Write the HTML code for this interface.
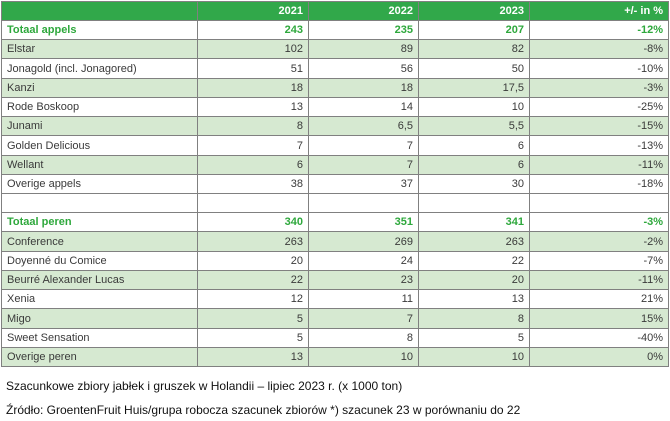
<!DOCTYPE html>
<html><head><meta charset="utf-8"><style>
body{margin:0;width:670px;height:421px;background:#fff;position:relative;overflow:hidden;font-family:"Liberation Sans",sans-serif}
.c{position:absolute;box-sizing:border-box;font-size:11px;color:#3a3a3a;line-height:19px;padding:0 5px;white-space:nowrap;overflow:hidden}
.cap{position:absolute;left:6px;font-family:"Liberation Sans",sans-serif;font-size:12px;color:#111}
</style></head><body>
<div id="tbl"></div>
<div class="cap" style="top:379px">Szacunkowe zbiory jabłek i gruszek w Holandii – lipiec 2023 r. (x 1000 ton)</div>
<div class="cap" style="top:403px">Źródło: GroentenFruit Huis/grupa robocza szacunek zbiorów *) szacunek 23 w porównaniu do 22</div>
<script>
const headers=["","2021","2022","2023","+/- in %"];
const rows=[
["Totaal appels","243","235","207","-12%","t"],
["Elstar","102","89","82","-8%","g"],
["Jonagold (incl. Jonagored)","51","56","50","-10%","w"],
["Kanzi","18","18","17,5","-3%","g"],
["Rode Boskoop","13","14","10","-25%","w"],
["Junami","8","6,5","5,5","-15%","g"],
["Golden Delicious","7","7","6","-13%","w"],
["Wellant","6","7","6","-11%","g"],
["Overige appels","38","37","30","-18%","w"],
["","","","","","w"],
["Totaal peren","340","351","341","-3%","t"],
["Conference","263","269","263","-2%","g"],
["Doyenné du Comice","20","24","22","-7%","w"],
["Beurré Alexander Lucas","22","23","20","-11%","g"],
["Xenia","12","11","13","21%","w"],
["Migo","5","7","8","15%","g"],
["Sweet Sensation","5","8","5","-40%","w"],
["Overige peren","13","10","10","0%","g"]];
const xs=[1,197,308,418,529,668];
const tbl=document.getElementById('tbl');
const top0=1,hh=19,rh=(366-20)/18;
function cell(x0,x1,y0,y1,txt,bg,col,bold,right,name){
 const d=document.createElement('div');d.className='c';
 
 
 d.style.left=x0+'px';d.style.width=(x1-x0+1)+'px';d.style.top=y0+'px';d.style.height=(y1-y0+1)+'px';
 d.style.lineHeight=(y1-y0)+'px';
 d.style.background=bg;d.style.color=col;d.style.fontWeight=bold?'bold':'normal';
 d.style.textAlign=right?'right':'left';
 d.style.border='1px solid #808080';
 d.textContent=txt;tbl.appendChild(d);}
for(let j=0;j<5;j++)cell(xs[j],xs[j+1],top0,20,headers[j],'#31a84a','#fff',true,true,'header-cell');
rows.forEach((r,i)=>{
 const y0=Math.round(20+i*rh),y1=Math.round(20+(i+1)*rh);
 const t=r[5];const bg=t==='g'?'#d6e9d1':'#fff';const col=t==='t'?'#2ea83c':'#3a3a3a';
 for(let j=0;j<5;j++)cell(xs[j],xs[j+1],y0,y1,r[j],bg,col,t==='t',j>0,j===0?'row-label':'value-cell');
});
</script>
</body></html>
